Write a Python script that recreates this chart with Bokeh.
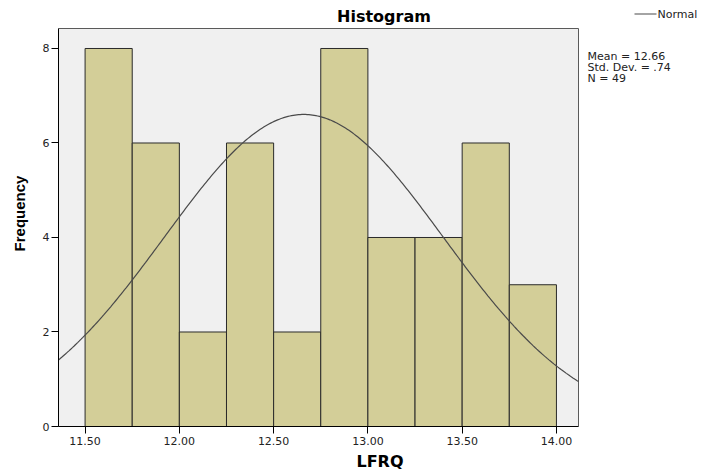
import math
import numpy as np
from bokeh.plotting import figure
from bokeh.models import Label, Arrow, FixedTicker, Range1d, CustomJSTickFormatter
from bokeh.embed import file_html
from bokeh.resources import INLINE

# data
bin_left = [11.50, 11.75, 12.00, 12.25, 12.50, 12.75, 13.00, 13.25, 13.50, 13.75]
bin_width = 0.25
counts = [8, 6, 2, 6, 2, 8, 4, 4, 6, 3]
mean_val = 12.66
sd_val = 0.74
n_val = 49
x_ticks = [11.5, 12.0, 12.5, 13.0, 13.5, 14.0]
y_ticks = [0, 2, 4, 6, 8]
stats_text = "Mean = 12.66\nStd. Dev. = .74\nN = 49"

FONT = "DejaVu Sans"
W, H = 701, 474
# pixel layout of the plot box (figure px, from top-left)
BOX_L, BOX_R, BOX_T, BOX_B = 58, 578, 28, 426
# data values at the box edges
bx0, bx1 = 11.359, 14.117
by0, by1 = 0.0, 8.423
sx = (BOX_R - BOX_L) / (bx1 - bx0)
sy = (BOX_B - BOX_T) / (by1 - by0)

def dx(px):
    return bx0 + (px - BOX_L) / sx

def dy(py):
    return by0 + (BOX_B - py) / sy

# frame spans from box left/bottom to figure right/top edges
fx0, fx1 = bx0, dx(W)
fy0, fy1 = by0, dy(0)

p = figure(width=W, height=H, output_backend="svg", toolbar_location=None,
           x_range=Range1d(fx0, fx1), y_range=Range1d(fy0, fy1),
           min_border_left=BOX_L, min_border_right=0, min_border_top=0,
           min_border_bottom=H - BOX_B)
p.background_fill_color = "white"
p.border_fill_color = "white"
p.outline_line_color = None
p.grid.visible = False

# plot box background
p.quad(left=[bx0], right=[bx1], bottom=[by0], top=[by1],
       fill_color="#F0F0F0", line_color="#5A5A5A", line_width=1)

centers = [b + bin_width / 2 for b in bin_left]
p.vbar(x=centers, top=counts, bottom=0, width=bin_width,
       fill_color="#D3CE98", line_color="#2A2A2A", line_width=1)

xs = np.linspace(bx0, bx1, 300)
ys = n_val * bin_width / (sd_val * math.sqrt(2 * math.pi)) * np.exp(-0.5 * ((xs - mean_val) / sd_val) ** 2)
p.line(xs, ys, line_color="#4A4A4A", line_width=1.2)

for ax in (p.xaxis, p.yaxis):
    ax.axis_line_color = "black"
    ax.major_tick_line_color = "black"
    ax.major_tick_in = 0
    ax.major_tick_out = 7
    ax.minor_tick_line_color = None
    ax.major_label_text_font = FONT
    ax.major_label_text_font_size = "11px"
    ax.major_label_text_color = "#222222"
    ax.axis_label_text_font_style = "bold"
    ax.axis_label_text_color = "black"

p.xaxis.bounds = (bx0, bx1)
p.yaxis.bounds = (by0, by1)
p.xaxis.ticker = FixedTicker(ticks=x_ticks)
p.yaxis.ticker = FixedTicker(ticks=y_ticks)
p.xaxis.formatter = CustomJSTickFormatter(code="return tick.toFixed(2);")
p.xaxis.major_label_standoff = 3
p.yaxis.major_label_standoff = 2
p.xaxis.axis_label = "LFRQ"
p.yaxis.axis_label = "Frequency"
p.xaxis.axis_label_text_font = FONT
p.xaxis.axis_label_text_font_size = "16px"
p.yaxis.axis_label_text_font = "Liberation Sans"
p.yaxis.axis_label_text_font_size = "15px"
p.xaxis.axis_label_standoff = 4
p.yaxis.axis_label_standoff = 12

p.add_layout(Label(x=dx(383.5), y=dy(16), text="Histogram", text_font=FONT,
                   text_font_style="bold", text_font_size="16px", text_align="center",
                   text_baseline="middle", text_color="black"))
p.add_layout(Arrow(end=None, x_start=dx(634), y_start=dy(13.5), x_end=dx(656), y_end=dy(13.5),
                   line_color="#4A4A4A", line_width=1.2))
p.add_layout(Label(x=dx(657), y=dy(13.5), text="Normal", text_font=FONT,
                   text_font_size="11px", text_baseline="middle", text_color="#222222"))
p.add_layout(Label(x=dx(587), y=dy(49), text=stats_text,
                   text_font=FONT, text_font_size="11px", text_baseline="top",
                   text_line_height=0.86, text_color="#222222"))

open("out.html", "w").write(file_html(p, INLINE))
